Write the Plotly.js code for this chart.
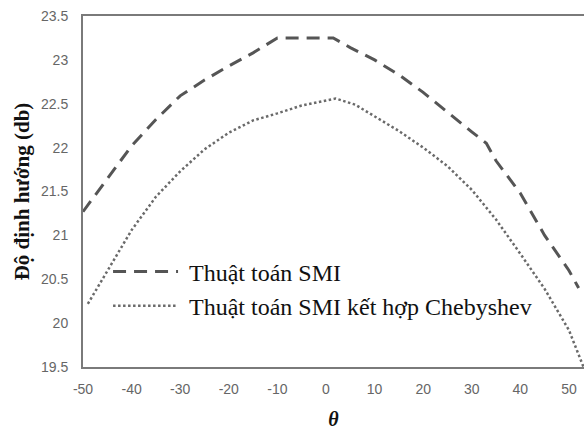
<!DOCTYPE html>
<html>
<head>
<meta charset="utf-8">
<script src="https://cdn.plot.ly/plotly-3.0.1.min.js"></script>
<style>html,body{margin:0;padding:0;background:#fff;}#chart{width:584px;height:432px;}</style>
</head>
<body>
<div id="chart"></div>
<script>
// Series: Thuật toán SMI (dashed)
const smiTheta = [-50, -45, -40, -35, -30, -25, -20, -15, -10, 1.5, 5, 10, 15, 20, 25, 30, 33, 35, 40, 45, 50, 52];
const smiGain  = [21.27, 21.65, 22.02, 22.32, 22.59, 22.77, 22.93, 23.08, 23.25, 23.25, 23.14, 23.0, 22.83, 22.63, 22.40, 22.18, 22.05, 21.85, 21.48, 21.0, 20.6, 20.4];
// Series: Thuật toán SMI kết hợp Chebyshev (dotted)
const chebTheta = [-49, -44, -40, -35, -30, -25, -20, -15, -10, -5, 2, 6, 10, 15, 20, 25, 30, 35, 40, 45, 50, 53];
const chebGain  = [20.22, 20.68, 21.06, 21.44, 21.73, 21.98, 22.17, 22.31, 22.39, 22.48, 22.56, 22.49, 22.36, 22.19, 22.0, 21.79, 21.52, 21.18, 20.79, 20.39, 19.92, 19.5];
// Labels
const seriesNames = ["Thuật toán SMI", "Thuật toán SMI kết hợp Chebyshev"];
const xTicks = [-50, -40, -30, -20, -10, 0, 10, 20, 30, 40, 50];
const yTicks = [19.5, 20, 20.5, 21, 21.5, 22, 22.5, 23, 23.5];
const xTitle = "θ";
const yTitle = "Độ định hướng (db)";

const traces = [
  {x: smiTheta, y: smiGain, name: "\u00a0" + seriesNames[0], mode: "lines",
   line: {color: "#555555", width: 3, dash: "13px,8px"}},
  {x: chebTheta, y: chebGain, name: "\u00a0" + seriesNames[1], mode: "lines",
   line: {color: "#6a6a6a", width: 2.5, dash: "2.5px,2.5px"}}
];

const layout = {
  width: 584, height: 432,
  margin: {l: 83, r: 0, t: 16, b: 65},
  paper_bgcolor: "#ffffff", plot_bgcolor: "#ffffff",
  showlegend: true,
  legend: {x: 0.05, y: 0.335, xanchor: "left", yanchor: "top",
    bgcolor: "rgba(0,0,0,0)", itemwidth: 65,
    font: {family: "Liberation Serif, Times New Roman, serif", size: 24, color: "#111"}},
  xaxis: {range: [-50, 53.1], tickvals: xTicks, ticktext: xTicks.map(String),
    showgrid: false, zeroline: false, showline: true, linecolor: "#7a7a7a", linewidth: 2,
    mirror: true, ticks: "", ticklabelstandoff: 8,
    tickfont: {family: "Liberation Sans, Arial, sans-serif", size: 14, color: "#666"},
    title: {text: "<b><i>" + xTitle + "</i></b>", standoff: 16,
      font: {family: "Liberation Serif, Times New Roman, serif", size: 20, color: "#111"}}},
  yaxis: {range: [19.5, 23.5], tickvals: yTicks, ticktext: yTicks.map(String),
    showgrid: false, zeroline: false, showline: true, linecolor: "#7a7a7a", linewidth: 2,
    mirror: false, ticks: "", ticklabelstandoff: 10,
    tickfont: {family: "Liberation Sans, Arial, sans-serif", size: 14, color: "#666"},
    title: {text: "<b>" + yTitle + "</b>", standoff: 6,
      font: {family: "Liberation Serif, Times New Roman, serif", size: 21, color: "#111"}}}
};

Plotly.newPlot("chart", traces, layout, {staticPlot: true, displayModeBar: false});
</script>
</body>
</html>
